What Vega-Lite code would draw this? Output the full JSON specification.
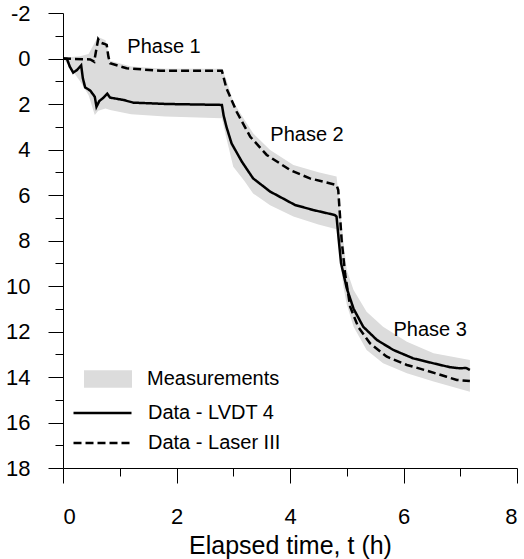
{
  "$schema": "https://vega.github.io/schema/vega-lite/v6.json",
  "width": 454,
  "height": 455,
  "autosize": "none",
  "padding": {"left": 63, "top": 13, "right": 7, "bottom": 91},
  "background": "white",
  "config": {
    "view": {"stroke": null},
    "font": "Liberation Sans",
    "axis": {"grid": false, "domainColor": "#000", "tickColor": "#000", "labelColor": "#000", "titleColor": "#000", "domainWidth": 1, "tickWidth": 1}
  },
  "datasets": {
    "band": [
      {"t": 0, "hi": 0, "lo": 0},
      {"t": 0.1, "hi": -0.05, "lo": 0.3},
      {"t": 0.3, "hi": -0.1, "lo": 1.0},
      {"t": 0.45, "hi": -0.2, "lo": 1.6},
      {"t": 0.56, "hi": -0.7, "lo": 2.48},
      {"t": 0.62, "hi": -0.95, "lo": 2.3},
      {"t": 0.75, "hi": -0.8, "lo": 2.2},
      {"t": 0.83, "hi": 0.1, "lo": 2.26},
      {"t": 1.2, "hi": 0.35, "lo": 2.45},
      {"t": 1.8, "hi": 0.45, "lo": 2.55},
      {"t": 2.8, "hi": 0.45, "lo": 2.63},
      {"t": 2.88, "hi": 0.95, "lo": 3.5},
      {"t": 3.0, "hi": 1.9, "lo": 4.76},
      {"t": 3.2, "hi": 2.7, "lo": 5.4},
      {"t": 3.35, "hi": 3.29, "lo": 5.93},
      {"t": 3.65, "hi": 4.02, "lo": 6.45},
      {"t": 4.06, "hi": 4.68, "lo": 6.95},
      {"t": 4.5, "hi": 5.0, "lo": 7.3},
      {"t": 4.82, "hi": 5.19, "lo": 7.5},
      {"t": 4.88, "hi": 6.5, "lo": 8.8},
      {"t": 4.94, "hi": 8.0, "lo": 10.0},
      {"t": 5.0, "hi": 9.3, "lo": 10.8},
      {"t": 5.12, "hi": 10.18, "lo": 11.79},
      {"t": 5.35, "hi": 11.13, "lo": 12.81},
      {"t": 5.64, "hi": 11.79, "lo": 13.4},
      {"t": 6.06, "hi": 12.45, "lo": 13.84},
      {"t": 6.53, "hi": 12.96, "lo": 14.2},
      {"t": 7.17, "hi": 13.25, "lo": 14.65}
    ],
    "lines": [
      {"series": "Data - LVDT 4", "t": 0, "y": 0},
      {"series": "Data - LVDT 4", "t": 0.07, "y": 0.02},
      {"series": "Data - LVDT 4", "t": 0.12, "y": 0.36},
      {"series": "Data - LVDT 4", "t": 0.18, "y": 0.62},
      {"series": "Data - LVDT 4", "t": 0.25, "y": 0.5},
      {"series": "Data - LVDT 4", "t": 0.32, "y": 0.3},
      {"series": "Data - LVDT 4", "t": 0.35, "y": 0.87},
      {"series": "Data - LVDT 4", "t": 0.39, "y": 1.27},
      {"series": "Data - LVDT 4", "t": 0.48, "y": 1.41},
      {"series": "Data - LVDT 4", "t": 0.56, "y": 1.68},
      {"series": "Data - LVDT 4", "t": 0.59, "y": 2.12},
      {"series": "Data - LVDT 4", "t": 0.64, "y": 1.87},
      {"series": "Data - LVDT 4", "t": 0.7, "y": 1.75},
      {"series": "Data - LVDT 4", "t": 0.78, "y": 1.55},
      {"series": "Data - LVDT 4", "t": 0.83, "y": 1.72},
      {"series": "Data - LVDT 4", "t": 1.06, "y": 1.82},
      {"series": "Data - LVDT 4", "t": 1.24, "y": 1.94},
      {"series": "Data - LVDT 4", "t": 1.83, "y": 2.0},
      {"series": "Data - LVDT 4", "t": 2.8, "y": 2.04},
      {"series": "Data - LVDT 4", "t": 2.83, "y": 2.5},
      {"series": "Data - LVDT 4", "t": 2.88, "y": 3.0},
      {"series": "Data - LVDT 4", "t": 2.97, "y": 3.73},
      {"series": "Data - LVDT 4", "t": 3.15, "y": 4.53},
      {"series": "Data - LVDT 4", "t": 3.35, "y": 5.27},
      {"series": "Data - LVDT 4", "t": 3.65, "y": 5.85},
      {"series": "Data - LVDT 4", "t": 4.09, "y": 6.44},
      {"series": "Data - LVDT 4", "t": 4.41, "y": 6.66},
      {"series": "Data - LVDT 4", "t": 4.79, "y": 6.88},
      {"series": "Data - LVDT 4", "t": 4.82, "y": 6.95},
      {"series": "Data - LVDT 4", "t": 4.86, "y": 8.0},
      {"series": "Data - LVDT 4", "t": 4.9, "y": 9.0},
      {"series": "Data - LVDT 4", "t": 4.94, "y": 9.44},
      {"series": "Data - LVDT 4", "t": 5.0, "y": 10.1},
      {"series": "Data - LVDT 4", "t": 5.12, "y": 11.0},
      {"series": "Data - LVDT 4", "t": 5.29, "y": 11.79},
      {"series": "Data - LVDT 4", "t": 5.53, "y": 12.37},
      {"series": "Data - LVDT 4", "t": 5.82, "y": 12.81},
      {"series": "Data - LVDT 4", "t": 6.17, "y": 13.18},
      {"series": "Data - LVDT 4", "t": 6.53, "y": 13.4},
      {"series": "Data - LVDT 4", "t": 6.82, "y": 13.57},
      {"series": "Data - LVDT 4", "t": 7.0, "y": 13.62},
      {"series": "Data - LVDT 4", "t": 7.1, "y": 13.6},
      {"series": "Data - LVDT 4", "t": 7.17, "y": 13.69},
      {"series": "Data - Laser III", "t": 0, "y": 0},
      {"series": "Data - Laser III", "t": 0.48, "y": 0.04},
      {"series": "Data - Laser III", "t": 0.55, "y": 0.14},
      {"series": "Data - Laser III", "t": 0.58, "y": -0.3},
      {"series": "Data - Laser III", "t": 0.62, "y": -0.85},
      {"series": "Data - Laser III", "t": 0.66, "y": -0.7},
      {"series": "Data - Laser III", "t": 0.72, "y": -0.65},
      {"series": "Data - Laser III", "t": 0.77, "y": -0.6},
      {"series": "Data - Laser III", "t": 0.8, "y": -0.08},
      {"series": "Data - Laser III", "t": 0.83, "y": 0.21},
      {"series": "Data - Laser III", "t": 1.12, "y": 0.43},
      {"series": "Data - Laser III", "t": 1.71, "y": 0.54},
      {"series": "Data - Laser III", "t": 2.8, "y": 0.54},
      {"series": "Data - Laser III", "t": 2.88, "y": 1.31},
      {"series": "Data - Laser III", "t": 3.06, "y": 2.34},
      {"series": "Data - Laser III", "t": 3.3, "y": 3.44},
      {"series": "Data - Laser III", "t": 3.59, "y": 4.24},
      {"series": "Data - Laser III", "t": 4.0, "y": 4.9},
      {"series": "Data - Laser III", "t": 4.35, "y": 5.27},
      {"series": "Data - Laser III", "t": 4.82, "y": 5.56},
      {"series": "Data - Laser III", "t": 4.85, "y": 5.78},
      {"series": "Data - Laser III", "t": 4.91, "y": 7.98},
      {"series": "Data - Laser III", "t": 4.97, "y": 9.44},
      {"series": "Data - Laser III", "t": 5.06, "y": 10.91},
      {"series": "Data - Laser III", "t": 5.2, "y": 11.79},
      {"series": "Data - Laser III", "t": 5.41, "y": 12.52},
      {"series": "Data - Laser III", "t": 5.7, "y": 13.1},
      {"series": "Data - Laser III", "t": 6.06, "y": 13.47},
      {"series": "Data - Laser III", "t": 6.41, "y": 13.72},
      {"series": "Data - Laser III", "t": 6.76, "y": 13.99},
      {"series": "Data - Laser III", "t": 6.94, "y": 14.13},
      {"series": "Data - Laser III", "t": 7.17, "y": 14.18}
    ],
    "labels": [
      {"t": 1.78, "y": -0.5, "text": "Phase 1"},
      {"t": 4.3, "y": 3.36, "text": "Phase 2"},
      {"t": 6.47, "y": 11.93, "text": "Phase 3"}
    ]
  },
  "encoding": {
    "x": {
      "type": "quantitative",
      "scale": {"domain": [0, 8], "nice": false, "zero": false},
      "axis": {
        "values": [0, 1, 2, 3, 4, 5, 6, 7, 8],
        "labelExpr": "datum.value % 2 === 0 ? '' + datum.value : ''",
        "labelOverlap": false,
        "labelFontSize": 22,
        "labelPadding": 23,
        "tickSize": {"condition": {"test": "datum.value % 2 === 0", "value": 15}, "value": 8},
        "title": "Elapsed time, t (h)",
        "titleFontSize": 25,
        "titleFontWeight": "normal",
        "titlePadding": 6
      }
    },
    "y": {
      "type": "quantitative",
      "scale": {"domain": [-2, 18], "nice": false, "zero": false, "reverse": true},
      "axis": {
        "values": [-2, -1, 0, 1, 2, 3, 4, 5, 6, 7, 8, 9, 10, 11, 12, 13, 14, 15, 16, 17, 18],
        "labelExpr": "datum.value % 2 === 0 ? '' + datum.value : ''",
        "labelOverlap": false,
        "labelFontSize": 22,
        "labelPadding": 18,
        "tickSize": {"condition": {"test": "datum.value % 2 === 0", "value": 15}, "value": 8},
        "title": null
      }
    }
  },
  "layer": [
    {
      "data": {"name": "band"},
      "mark": {"type": "area", "opacity": 1},
      "encoding": {
        "x": {"field": "t", "type": "quantitative"},
        "y": {"field": "hi", "type": "quantitative"},
        "y2": {"field": "lo"},
        "fill": {
          "datum": "Measurements",
          "type": "nominal",
          "scale": {"range": ["#dcdcdc"]},
          "legend": {
            "title": null,
            "orient": "none",
            "legendX": 21,
            "legendY": 342,
            "padding": 0,
            "symbolType": "M-1,-0.36H1V0.36H-1Z",
            "symbolSize": 2304,
            "symbolStrokeWidth": 0,
            "symbolOpacity": 1,
            "labelFontSize": 20,
            "labelOffset": 15,
            "labelColor": "#000"
          }
        }
      }
    },
    {
      "data": {"name": "lines"},
      "mark": {"type": "line", "color": "black", "strokeWidth": 2.5},
      "encoding": {
        "x": {"field": "t", "type": "quantitative"},
        "y": {"field": "y", "type": "quantitative"},
        "strokeDash": {
          "field": "series",
          "type": "nominal",
          "scale": {"domain": ["Data - LVDT 4", "Data - Laser III"], "range": [[1, 0], [8, 4]]},
          "legend": {
            "title": null,
            "orient": "none",
            "legendX": 23.5,
            "legendY": 384,
            "padding": 0,
            "symbolType": "M-2,0H2",
            "symbolSize": 841,
            "symbolStrokeWidth": 2.5,
            "symbolStrokeColor": "black",
            "labelFontSize": 20,
            "labelOffset": 29.5,
            "labelColor": "#000",
            "rowPadding": 4
          }
        }
      }
    },
    {
      "data": {"name": "labels"},
      "mark": {"type": "text", "fontSize": 20, "color": "#000", "align": "center", "baseline": "middle"},
      "encoding": {
        "x": {"field": "t", "type": "quantitative"},
        "y": {"field": "y", "type": "quantitative"},
        "text": {"field": "text"}
      }
    }
  ]
}
